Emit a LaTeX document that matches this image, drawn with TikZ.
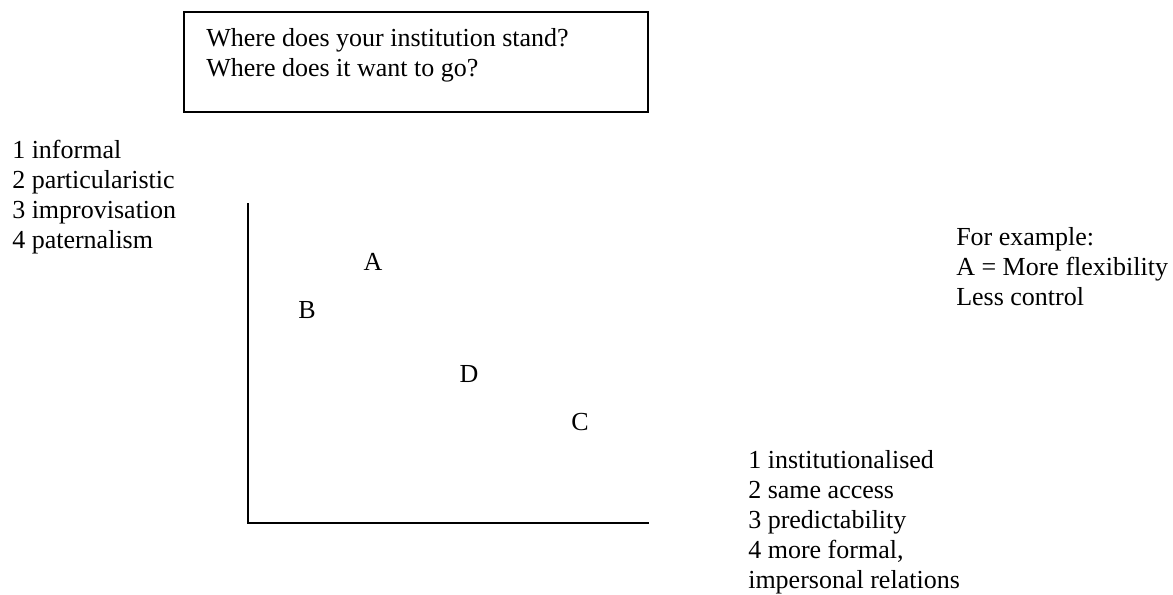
\documentclass[tikz,border=0pt]{standalone}
\usepackage{fontspec}
\setmainfont{Liberation Serif}
\tikzset{
    label text/.style={anchor=base west, align=left, inner sep=0pt,
        font=\fontsize{19.5}{22.5}\selectfont},
    point/.style={anchor=base, inner sep=0pt,
        font=\fontsize{19.5}{22.5}\selectfont}
}
\begin{document}
\begin{tikzpicture}[x=0.75pt,y=-0.75pt]
            \useasboundingbox (0,0) rectangle (1173,594);
            \draw[line width=1.5pt] (184,12) rectangle (648,112);
            \node[label text] (question) at (206,76) {Where does your institution stand?\\Where does it want to go?};
            \node[label text] (informal) at (12,248) {1 informal\\2 particularistic\\3 improvisation\\4 paternalism};
            \node[label text] (formal) at (748,588) {1 institutionalised\\2 same access\\3 predictability\\4 more formal,\\impersonal relations};
            \node[label text] (example) at (956,305) {For example:\\A = More flexibility\\Less control};
            \coordinate (ytop) at (248,203);
            \coordinate (origin) at (248,523);
            \coordinate (xend) at (649,523);
            \draw[line width=2pt] (ytop) -- (origin) -- (xend);
            \node[point] (A) at (373,270) {A};
            \node[point] (B) at (307,318) {B};
            \node[point] (D) at (469,382) {D};
            \node[point] (C) at (580,430) {C};
        \end{tikzpicture}
\end{document}
